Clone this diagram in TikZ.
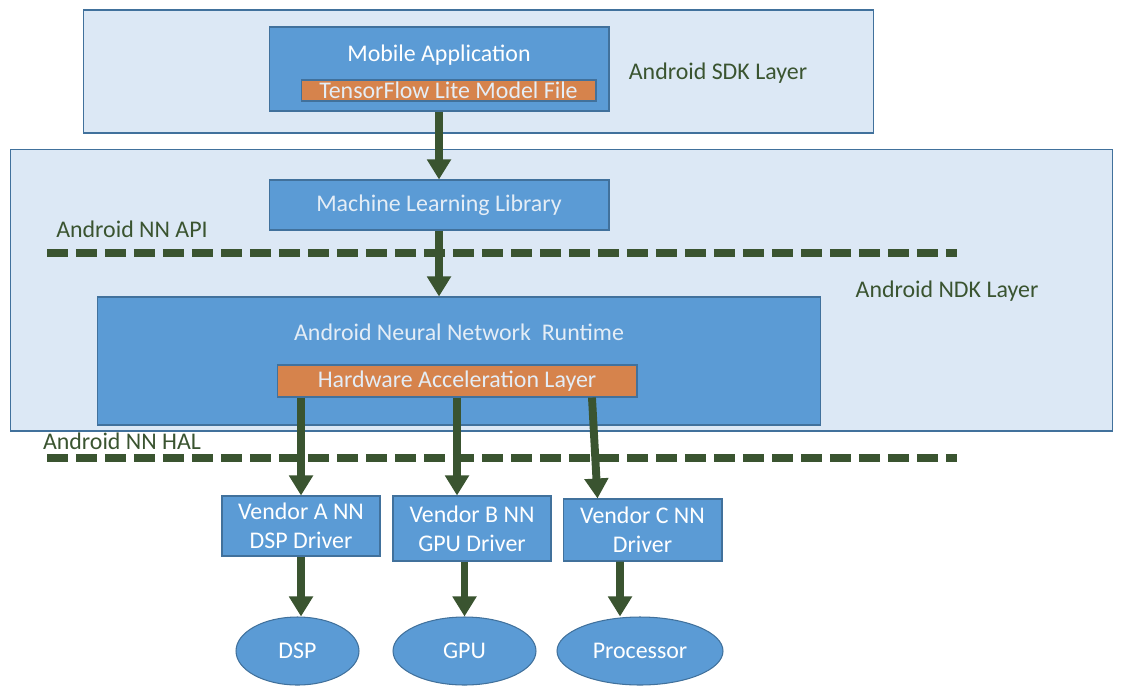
\documentclass[tikz,border=0pt]{standalone}
\usepackage{fontspec}
\setmainfont{Carlito}
\usetikzlibrary{arrows.meta,shapes.geometric}
\definecolor{layerfill}{HTML}{DCE8F5}
\definecolor{edgeblue}{HTML}{41719C}
\definecolor{boxblue}{HTML}{5B9BD5}
\definecolor{accorange}{HTML}{D6834C}
\definecolor{darkgreen}{HTML}{3A5430}
\definecolor{palewhite}{HTML}{E4EDF6}

\begin{document}
\begin{tikzpicture}[x=0.02cm,y=-0.02cm,
  font=\fontsize{13.6}{16.5}\selectfont,
  layer/.style={rectangle,draw=edgeblue,fill=layerfill,line width=0.6pt,inner sep=0pt},
  main node/.style={rectangle,draw=edgeblue,fill=boxblue,line width=0.6pt,inner sep=0pt,text=white,align=center},
  hw node/.style={rectangle,draw=edgeblue,fill=accorange,line width=0.6pt,inner sep=0pt,text=palewhite},
  unit node/.style={ellipse,draw=edgeblue,fill=boxblue,line width=0.6pt,inner sep=0pt,text=white},
  layer label/.style={text=darkgreen,inner sep=0pt},
  flow/.style={draw=darkgreen,line width=4.5pt,-{Triangle[width=0.46cm,length=0.4cm]}},
  split/.style={draw=darkgreen,line width=4pt,dash pattern=on 0.42cm off 0.16cm}]

  \useasboundingbox (0,0) rectangle (1124,696);

  % layers
  \node[layer,minimum width=15.82cm,minimum height=2.46cm] (sdk) at (478.5,71.5) {};
  \node[layer,minimum width=22.06cm,minimum height=5.64cm] (ndk) at (561.5,290) {};
  \node[layer label] (sdklabel) at (718,73) {Android SDK Layer};
  \node[layer label] (ndklabel) at (947,291) {Android NDK Layer};
  \node[layer label] (apilabel) at (132,229) {Android NN API};
  \node[layer label] (hallabel) at (122,441) {Android NN HAL};

  % boxes
  \node[main node,minimum width=6.8cm,minimum height=1.68cm] (app) at (439,69) {};
  \node[text=white,inner sep=0pt] (apptext) at (439,55) {Mobile Application};
  \node[hw node,minimum width=5.9cm,minimum height=0.42cm] (tflite) at (448.5,90.5) {TensorFlow Lite Model File};
  \node[main node,minimum width=6.8cm,minimum height=1.0cm,text=palewhite] (mll) at (439,205) {Machine Learning Library};
  \node[main node,minimum width=14.48cm,minimum height=2.56cm] (rt) at (459,361) {};
  \node[text=palewhite,inner sep=0pt] (rttext) at (459,332) {Android Neural Network\ \ Runtime};
  \node[hw node,minimum width=7.2cm,minimum height=0.64cm] (hal) at (457,381) {Hardware Acceleration Layer};

  \node[main node,minimum width=3.16cm,minimum height=1.2cm] (vendA) at (301,526) {Vendor A NN\\DSP Driver};
  \node[main node,minimum width=3.16cm,minimum height=1.3cm] (vendB) at (472,528.5) {Vendor B NN\\GPU Driver};
  \node[main node,minimum width=3.18cm,minimum height=1.24cm] (vendC) at (642.5,530) {Vendor C NN\\Driver};

  \node[unit node,minimum width=2.46cm,minimum height=1.36cm] (dsp) at (297.5,651) {DSP};
  \node[unit node,minimum width=2.86cm,minimum height=1.36cm] (gpu) at (464.5,651) {GPU};
  \node[unit node,minimum width=3.32cm,minimum height=1.36cm] (proc) at (640,651) {Processor};

  % dashed borders
  \coordinate (api1) at (47,253);
  \coordinate (api2) at (957,253);
  \coordinate (hal1) at (47,458);
  \coordinate (hal2) at (957,458);
  \path[split] (api1) -- (api2);
  \path[split] (hal1) -- (hal2);

  \path[every edge/.style={flow}]
   (app.south) edge (mll.north)
   (mll.south) edge (mll.south |- rt.north)
   (hal.south -| vendA.north) edge (vendA.north)
   (hal.south) edge (hal.south |- vendB.north)
   ([xshift=2.7cm]hal.south) edge ([xshift=-0.9cm]vendC.north)
   (vendA.south) edge (vendA.south |- dsp.north)
   (vendB.south -| gpu.north) edge (gpu.north)
   ([xshift=-0.45cm]vendC.south) edge ([xshift=-0.4cm]proc.north);
\end{tikzpicture}
\end{document}
